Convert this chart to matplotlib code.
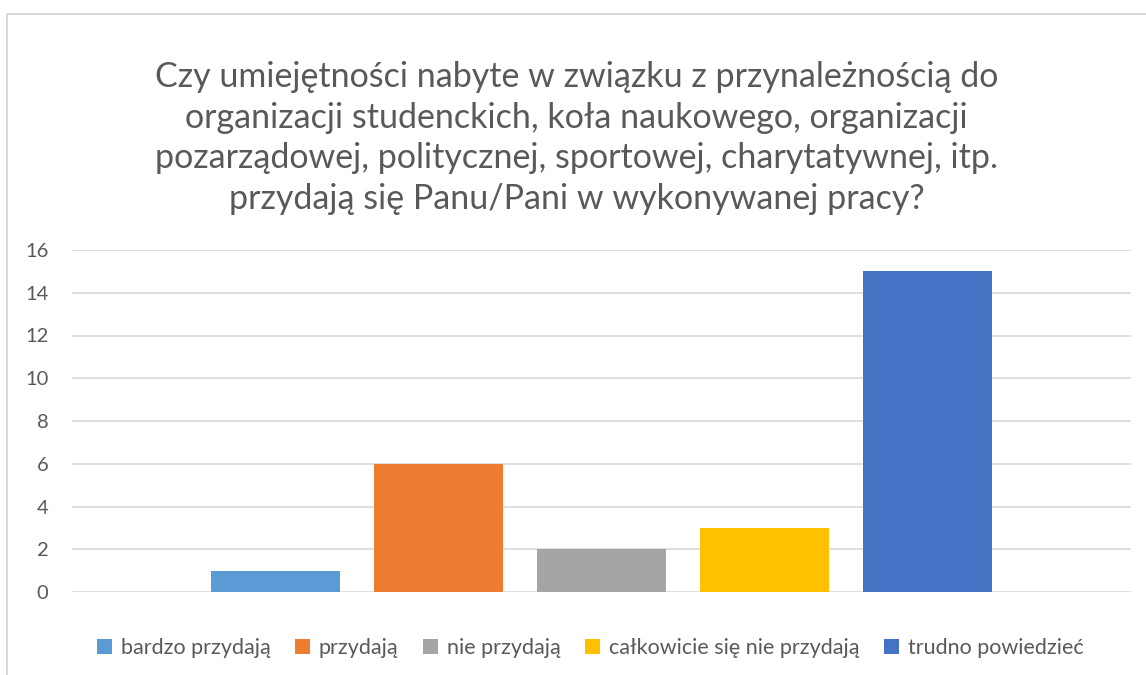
import matplotlib.pyplot as plt
from matplotlib.patches import Rectangle

categories = ["bardzo przydają", "przydają", "nie przydają",
              "całkowicie się nie przydają", "trudno powiedzieć"]
values = [1, 6, 2, 3, 15]
colors = ["#5B9BD5", "#ED7D31", "#A5A5A5", "#FFC000", "#4472C4"]
y_ticks = [0, 2, 4, 6, 8, 10, 12, 14, 16]

title = ("Czy umiejętności nabyte w związku z przynależnością do\n"
         "organizacji studenckich, koła naukowego, organizacji\n"
         "pozarządowej, politycznej, sportowej, charytatywnej, itp.\n"
         "przydają się Panu/Pani w wykonywanej pracy?")

text_color = "#595959"
plt.rcParams["font.family"] = ["Lato", "DejaVu Sans"]

fig = plt.figure(figsize=(11.46, 6.75), dpi=100)
ax = fig.add_axes([72 / 1146, 1 - 592 / 675, (1131 - 72) / 1146, (592 - 250) / 675])

# chart border (Excel-like frame)
fig.patches.append(Rectangle((7 / 1146, -0.1), 1.2, 1 - 14 / 675 + 0.1,
                             transform=fig.transFigure, fill=False,
                             edgecolor="#D9D9D9", linewidth=1.5))

bars = []
for i, (cat, val, col) in enumerate(zip(categories, values, colors)):
    b = ax.bar(i, val, width=129 / 163, color=col, label=cat, zorder=3)
    bars.append(b)

ax.set_xlim(-1.25, 5.25)
ax.set_ylim(0, 16)
ax.set_yticks(y_ticks)
ax.set_xticks([])
ax.yaxis.grid(True, color="#D9D9D9", linewidth=1.2, zorder=0)
for s in ax.spines.values():
    s.set_visible(False)
ax.tick_params(axis="y", length=0, pad=17, labelsize=14.5, labelcolor=text_color)

fig.text(0.503, 1 - 138 / 675, title, ha="center", va="center",
         fontsize=24.5, color=text_color, linespacing=1.33)

fig.legend(handles=[b[0] for b in bars], labels=categories,
           loc="center", bbox_to_anchor=(0.515, 1 - 648 / 675), ncol=5,
           frameon=False, fontsize=15.5, handlelength=0.7, handleheight=0.7,
           handletextpad=0.4, columnspacing=1.15, labelcolor=text_color)

fig.savefig("out.png", dpi=100)
